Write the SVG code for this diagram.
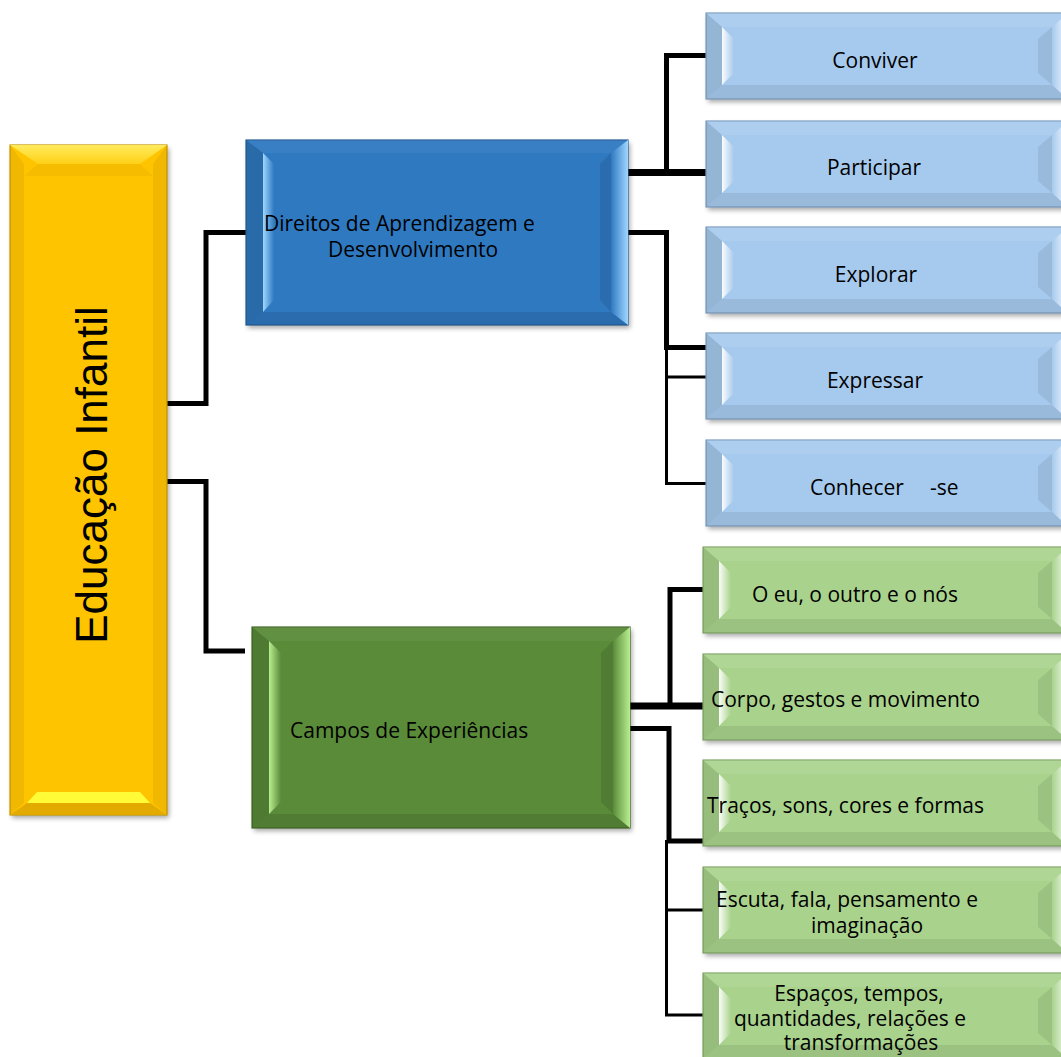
<svg xmlns="http://www.w3.org/2000/svg" xmlns:xlink="http://www.w3.org/1999/xlink" width="1061" height="1057" viewBox="0 0 1061 1057">
<style>
  .t { font-family: "Open Sans", "Noto Sans", "Liberation Sans", sans-serif; font-size: 21px; fill: #000; }
  .tm { text-anchor: middle; }
  .title { font-family: "Liberation Sans", Arial, sans-serif; font-size: 44px; fill: #000; text-anchor: middle; }
  .c { fill: none; stroke: #000; stroke-linecap: butt; stroke-linejoin: miter; }
  .w5 { stroke-width: 5; }
  .w7 { stroke-width: 7; }
  .w3 { stroke-width: 3; }
  .shadow { fill: #000; opacity: 0.35; filter: url(#blur); }
</style>
<defs>
  <filter id="blur" x="-10%" y="-10%" width="120%" height="130%">
    <feGaussianBlur stdDeviation="2.5"/>
  </filter>
  <linearGradient id="hlL" x1="0" y1="0" x2="1" y2="0">
    <stop offset="0" stop-color="#fff" stop-opacity="0.95"/>
    <stop offset="1" stop-color="#fff" stop-opacity="0"/>
  </linearGradient>
  <linearGradient id="hlR" x1="0" y1="0" x2="1" y2="0">
    <stop offset="0" stop-color="#fff" stop-opacity="0"/>
    <stop offset="1" stop-color="#fff" stop-opacity="0.9"/>
  </linearGradient>
  <linearGradient id="hlLb" x1="0" y1="0" x2="1" y2="0">
    <stop offset="0" stop-color="#9fd6ff" stop-opacity="1"/>
    <stop offset="1" stop-color="#9fd6ff" stop-opacity="0"/>
  </linearGradient>
  <linearGradient id="hlRb" x1="0" y1="0" x2="1" y2="0">
    <stop offset="0" stop-color="#9fd6ff" stop-opacity="0"/>
    <stop offset="1" stop-color="#9fd6ff" stop-opacity="1"/>
  </linearGradient>
  <linearGradient id="hlLg" x1="0" y1="0" x2="1" y2="0">
    <stop offset="0" stop-color="#b8ee90" stop-opacity="1"/>
    <stop offset="1" stop-color="#b8ee90" stop-opacity="0"/>
  </linearGradient>
  <linearGradient id="hlRg" x1="0" y1="0" x2="1" y2="0">
    <stop offset="0" stop-color="#b8ee90" stop-opacity="0"/>
    <stop offset="1" stop-color="#b8ee90" stop-opacity="1"/>
  </linearGradient>
  <linearGradient id="hlTy" x1="0" y1="0" x2="0" y2="1">
    <stop offset="0" stop-color="#fff066" stop-opacity="1"/>
    <stop offset="1" stop-color="#ffd21a" stop-opacity="1"/>
  </linearGradient>

  <g id="boxBlueSmall">
    <rect class="shadow" x="2" y="3" width="362" height="86"/>
    <rect x="0" y="0" width="362" height="86" fill="#a6caee" stroke="#7f9fc2" stroke-width="1.2"/>
    <polygon points="0,0 362,0 346,14 16,14" fill="#fff" opacity="0.08"/>
    <polygon points="0,86 362,86 346,72 16,72" fill="#000" opacity="0.08"/>
    <polygon points="0,0 16,14 16,72 0,86" fill="#000" opacity="0.1"/>
    <polygon points="16,14 28,26 28,60 16,72" fill="url(#hlL)"/>
    <polygon points="346,14 332,26 332,60 346,72" fill="#000" opacity="0.08"/>
    <polygon points="362,0 346,14 346,72 362,86" fill="url(#hlR)"/>
  </g>
  <g id="boxGreenSmall">
    <rect class="shadow" x="2" y="3" width="365" height="86"/>
    <rect x="0" y="0" width="365" height="86" fill="#a9d38c" stroke="#84a86a" stroke-width="1.2"/>
    <polygon points="0,0 365,0 349,14 16,14" fill="#fff" opacity="0.08"/>
    <polygon points="0,86 365,86 349,72 16,72" fill="#000" opacity="0.08"/>
    <polygon points="0,0 16,14 16,72 0,86" fill="#000" opacity="0.1"/>
    <polygon points="16,14 28,26 28,60 16,72" fill="url(#hlL)"/>
    <polygon points="349,14 335,26 335,60 349,72" fill="#000" opacity="0.08"/>
    <polygon points="365,0 349,14 349,72 365,86" fill="url(#hlR)"/>
  </g>
</defs>

<rect x="0" y="0" width="1061" height="1057" fill="#fff"/>

<g id="connectors">
  <path class="c w5" d="M167,403.5 H206 V232.5 H247"/>
  <path class="c w5" d="M167,481.5 H206 V651 H245"/>
  <path class="c w7" d="M628,172.5 H707"/>
  <path class="c w5" d="M666.5,172.5 V55.5 H707"/>
  <path class="c w5" d="M628,232.5 H666.5 V347.5 H707"/>
  <path class="c w3" d="M666.5,347 V483.5 H707"/>
  <path class="c w3" d="M666.5,377 H707"/>
  <path class="c w7" d="M630,706 H704"/>
  <path class="c w5" d="M670,706 V589.5 H704"/>
  <path class="c w5" d="M630,728.5 H669 V841 H704"/>
  <path class="c w3" d="M666.5,840 V1015 H704"/>
  <path class="c w3" d="M666.5,910 H704"/>
</g>

<g id="n-educacao">
  <rect class="shadow" x="12" y="148" width="157" height="670"/>
  <rect x="10" y="145" width="157" height="670" fill="#ffc400" stroke="#c99a00" stroke-width="1.2"/>
  <polygon points="10,145 167,145 140,164 38,164" fill="url(#hlTy)" opacity="0.9"/>
  <polygon points="10,145 24,164 24,803 10,815" fill="#000" opacity="0.06"/>
  <polygon points="167,145 153,164 153,803 167,815" fill="#000" opacity="0.06"/>
  <polygon points="38,164 140,164 153,176 24,176" fill="#000" opacity="0.04"/>
  <polygon points="27,803 150,803 140,792 37,792" fill="#ffff3a" opacity="0.95"/>
  <polygon points="10,815 167,815 150,803 27,803" fill="#e0a800" opacity="0.9"/>
  <text class="title" transform="translate(107,475) rotate(-90)">Educação Infantil</text>
</g>

<g id="n-direitos">
  <rect class="shadow" x="248" y="143" width="382" height="185"/>
  <rect x="246" y="140" width="382" height="185" fill="#2f79c1" stroke="#285f96" stroke-width="1.2"/>
  <polygon points="246,140 628,140 611,153 263,153" fill="#fff" opacity="0.05"/>
  <polygon points="246,325 628,325 611,312 263,312" fill="#000" opacity="0.1"/>
  <polygon points="246,140 263,153 263,312 246,325" fill="#000" opacity="0.12"/>
  <polygon points="263,153 274,164 274,300 263,312" fill="url(#hlLb)"/>
  <polygon points="611,153 600,164 600,300 611,312" fill="#000" opacity="0.1"/>
  <polygon points="628,140 611,153 611,312 628,325" fill="url(#hlRb)"/>
  <text class="t" x="264" y="231">Direitos de Aprendizagem e</text>
  <text class="t" x="328" y="257">Desenvolvimento</text>
</g>

<g id="n-campos">
  <rect class="shadow" x="254" y="630" width="378" height="201"/>
  <rect x="252" y="627" width="378" height="201" fill="#5a8b39" stroke="#456d2b" stroke-width="1.2"/>
  <polygon points="252,627 630,627 613,641 269,641" fill="#fff" opacity="0.05"/>
  <polygon points="252,828 630,828 613,814 269,814" fill="#000" opacity="0.1"/>
  <polygon points="252,627 269,641 269,814 252,828" fill="#000" opacity="0.12"/>
  <polygon points="269,641 281,653 281,802 269,814" fill="url(#hlLg)"/>
  <polygon points="613,641 601,653 601,802 613,814" fill="#000" opacity="0.1"/>
  <polygon points="630,627 613,641 613,814 630,828" fill="url(#hlRg)"/>
  <text class="t" x="290" y="738">Campos de Experiências</text>
</g>

<g id="n-conviver">
  <use xlink:href="#boxBlueSmall" x="706" y="13"/>
  <text class="t tm" x="875" y="68">Conviver</text>
</g>
<g id="n-participar">
  <use xlink:href="#boxBlueSmall" x="706" y="121"/>
  <text class="t tm" x="874" y="175">Participar</text>
</g>
<g id="n-explorar">
  <use xlink:href="#boxBlueSmall" x="706" y="227"/>
  <text class="t tm" x="876" y="282">Explorar</text>
</g>
<g id="n-expressar">
  <use xlink:href="#boxBlueSmall" x="706" y="333"/>
  <text class="t tm" x="875" y="388">Expressar</text>
</g>
<g id="n-conhecer">
  <use xlink:href="#boxBlueSmall" x="706" y="440"/>
  <text class="t" x="810" y="495">Conhecer<tspan x="930">-se</tspan></text>
</g>

<g id="n-eu">
  <use xlink:href="#boxGreenSmall" x="703" y="547"/>
  <text class="t" x="752" y="602">O eu, o outro e o nós</text>
</g>
<g id="n-corpo">
  <use xlink:href="#boxGreenSmall" x="703" y="654"/>
  <text class="t" x="711" y="707">Corpo, gestos e movimento</text>
</g>
<g id="n-tracos">
  <use xlink:href="#boxGreenSmall" x="703" y="760"/>
  <text class="t" x="707" y="813">Traços, sons, cores e formas</text>
</g>
<g id="n-escuta">
  <use xlink:href="#boxGreenSmall" x="703" y="867"/>
  <text class="t" x="716" y="907">Escuta, fala, pensamento e</text>
  <text class="t tm" x="867" y="933">imaginação</text>
</g>
<g id="n-espacos">
  <use xlink:href="#boxGreenSmall" x="703" y="973"/>
  <text class="t tm" x="859" y="1001">Espaços, tempos,</text>
  <text class="t tm" x="850" y="1026">quantidades, relações e</text>
  <text class="t tm" x="861" y="1050">transformações</text>
</g>
</svg>
